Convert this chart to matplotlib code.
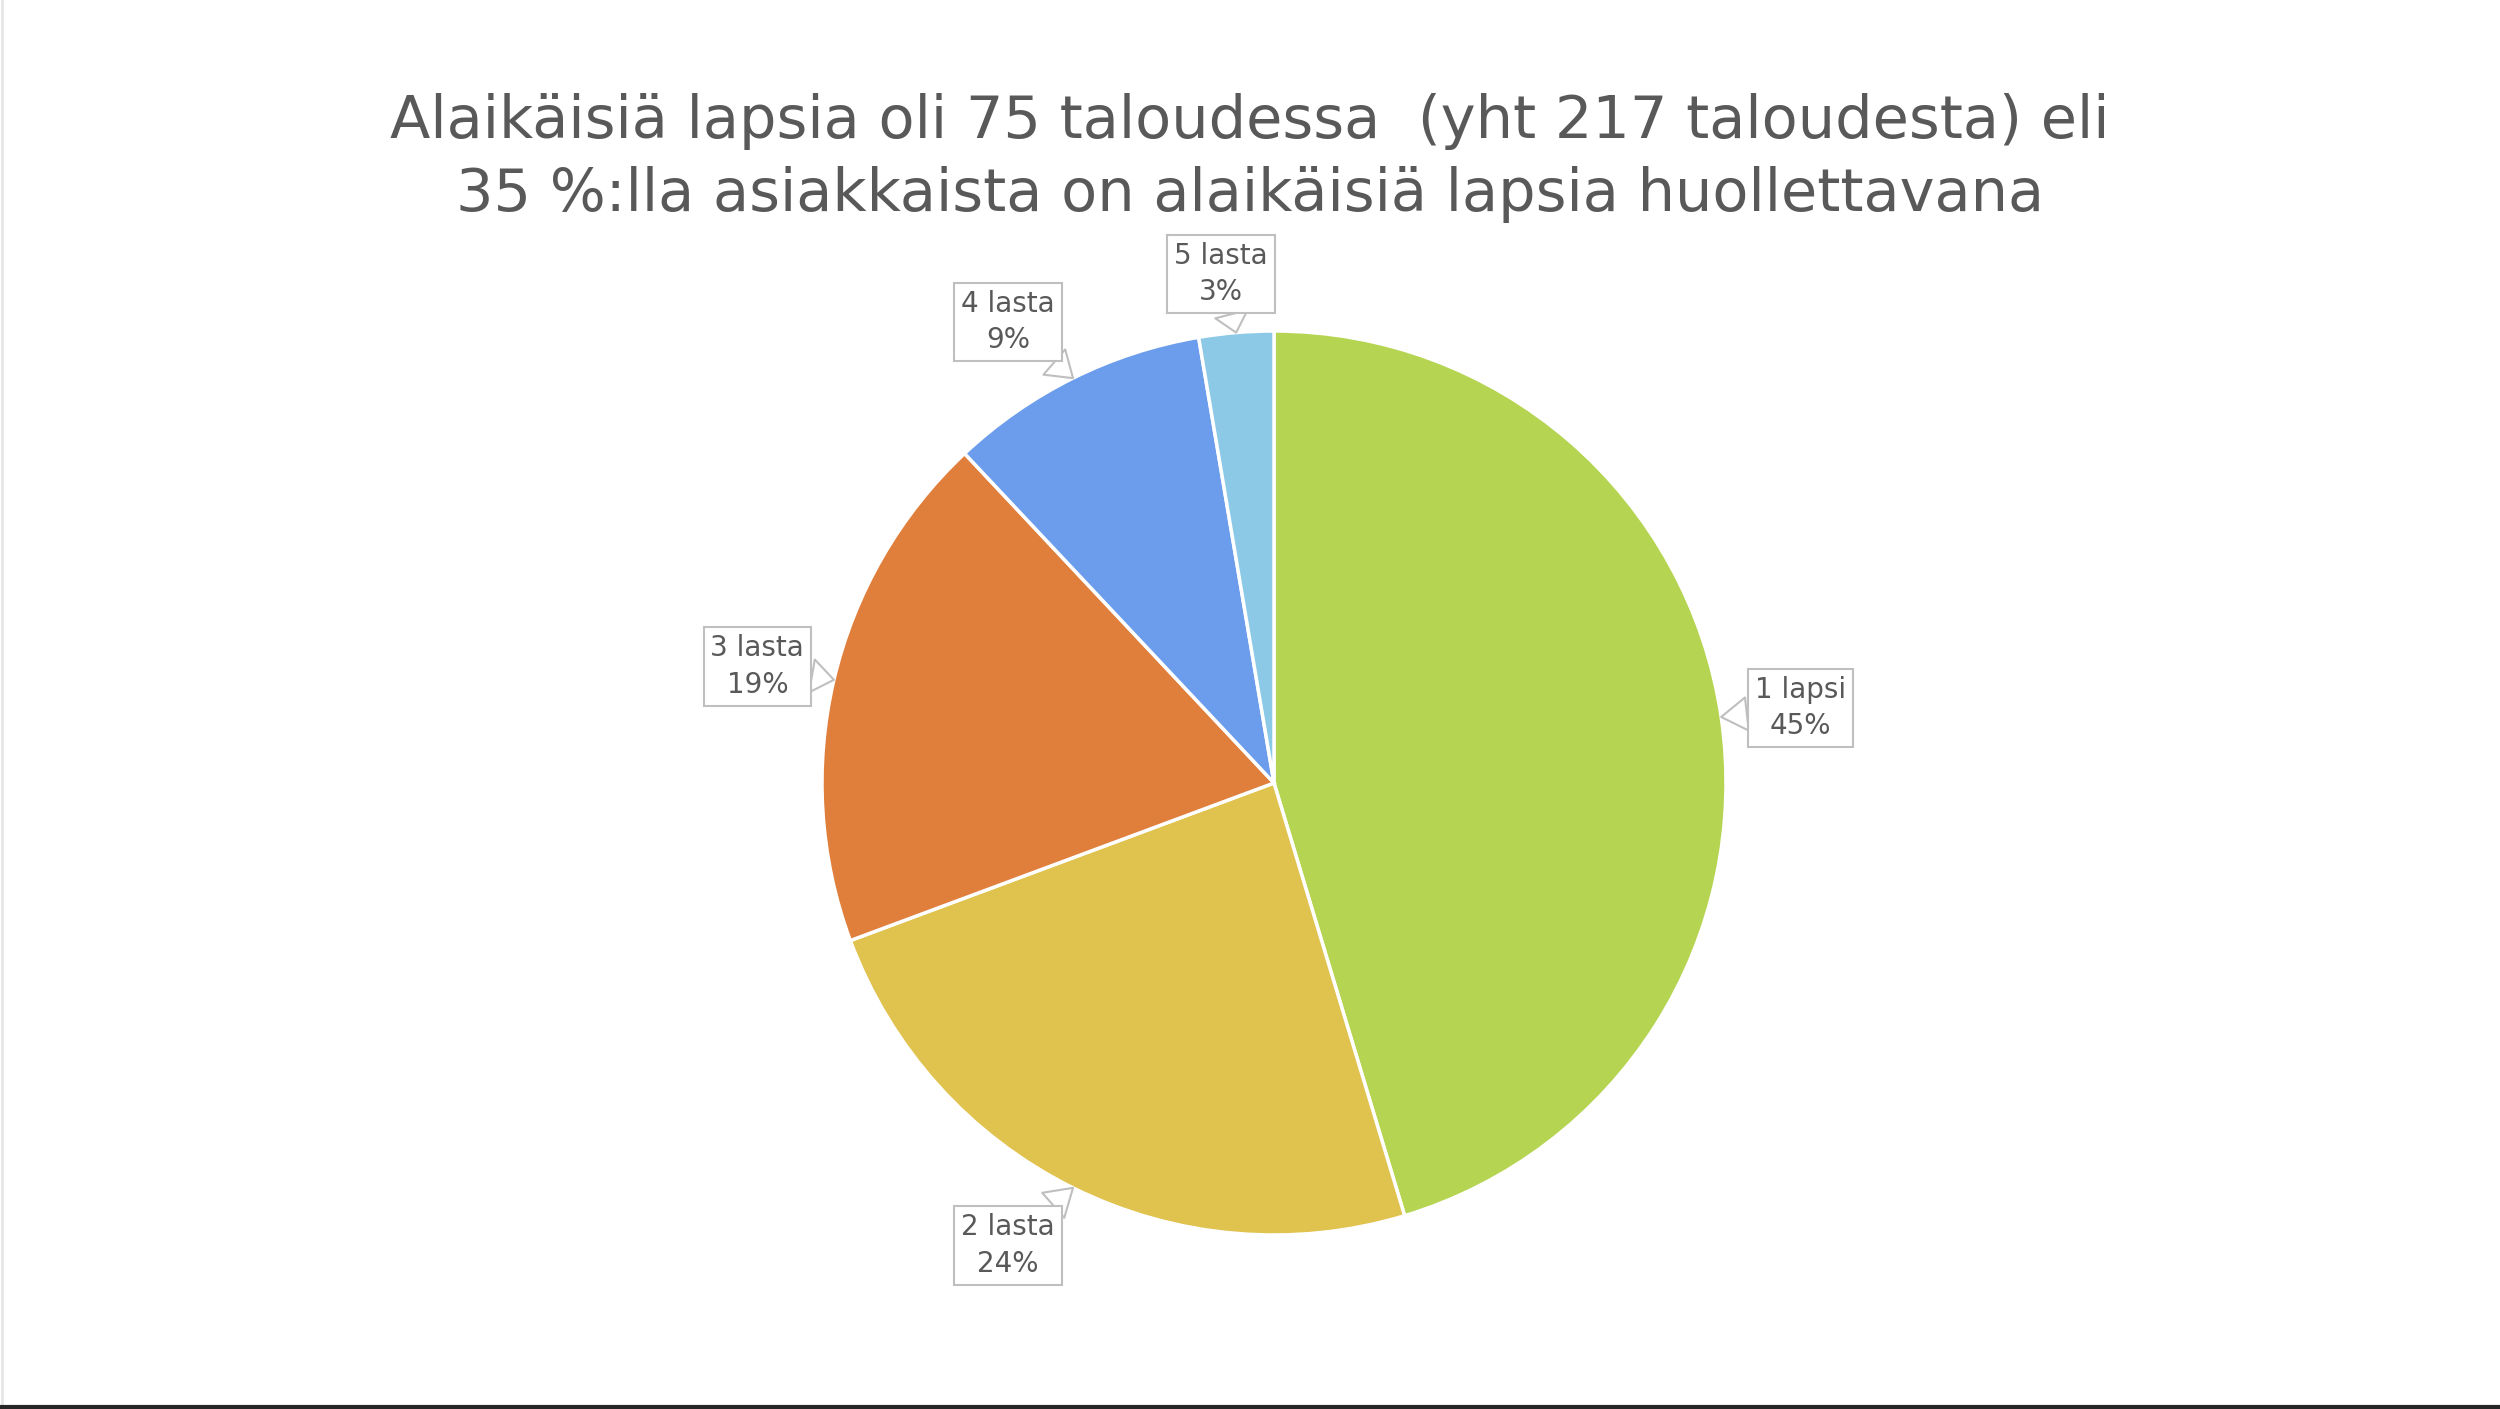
import numpy as np
import matplotlib.pyplot as plt

# lapsiluku per talous (75 taloutta)
labels = ["1 lapsi", "2 lasta", "3 lasta", "4 lasta", "5 lasta"]
counts = [34, 18, 14, 7, 2]
colors = ["#B5D451", "#E0C24F", "#E07E3C", "#6B9DEC", "#8BC9E6"]

title = ("Alaikäisiä lapsia oli 75 taloudessa  (yht 217 taloudesta) eli\n"
         "35 %:lla asiakkaista on alaikäisiä lapsia huollettavana")

# label box centres in data units (pie radius = 1)
label_pos = [(1.164, 0.166), (-0.589, -1.023), (-1.143, 0.258),
             (-0.589, 1.020), (-0.117, 1.126)]

plt.rcParams['font.family'] = ['DejaVu Sans']
text_col = "#595959"

W, H = 2500, 1409
fig = plt.figure(figsize=(W / 100, H / 100), dpi=100)
fig.patch.set_facecolor("white")

# axes covering the whole figure, 1 unit = R pixels
cx, cy, R = 1274, 783, 452
ax = fig.add_axes([0, 0, 1, 1])

wedges, _ = ax.pie(counts, colors=colors, startangle=90, counterclock=False,
                   radius=1, center=(0, 0),
                   wedgeprops=dict(edgecolor="white", linewidth=2.5))
ax.set_xlim(-cx / R, (W - cx) / R)
ax.set_ylim(-(H - cy) / R, cy / R)
ax.set_aspect("equal")
ax.axis("off")

total = sum(counts)
for w, lab, n, pos in zip(wedges, labels, counts, label_pos):
    mid = np.deg2rad((w.theta1 + w.theta2) / 2)
    tip = (np.cos(mid), np.sin(mid))
    pct = round(100 * n / total)
    ax.annotate(f"{lab}\n{pct}%", xy=tip, xytext=pos,
                ha="center", va="center", fontsize=20, color=text_col,
                linespacing=1.4,
                bbox=dict(boxstyle="square,pad=0.25", fc="white", ec="#BFBFBF", lw=1.5),
                arrowprops=dict(arrowstyle="wedge,tail_width=1.2,shrink_factor=0.5",
                                fc="white", ec="#BFBFBF", lw=1.5,
                                shrinkA=0, shrinkB=0))

fig.text(0.5, 1 - 158 / H, title, ha="center", va="center", fontsize=42.5,
         color=text_col, linespacing=1.34)

# thin frame like the slide edge
fig.add_artist(plt.Line2D([0.0008, 0.0008], [0, 1], color="#E6E6E6", lw=2,
                          transform=fig.transFigure))
fig.add_artist(plt.Line2D([0, 1], [0.0015, 0.0015], color="#262626", lw=3,
                          transform=fig.transFigure))

fig.savefig("out.png", dpi=100, facecolor="white")
